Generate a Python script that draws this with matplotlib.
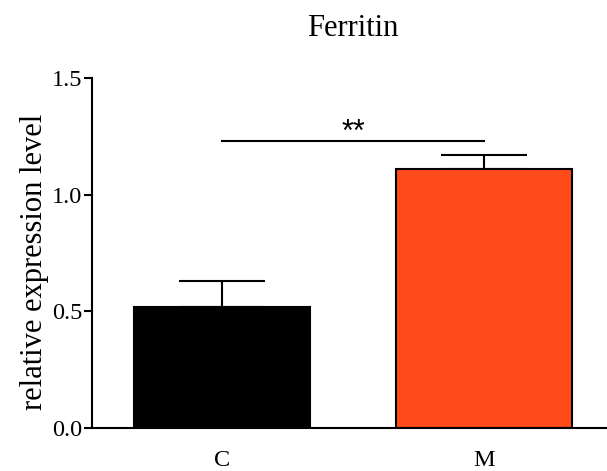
#!/usr/bin/env python3
"""Ferritin relative expression, C vs M bar chart with SEM and significance."""

import matplotlib
matplotlib.use("Agg")
import matplotlib.pyplot as plt
import numpy as np

groups = ["C", "M"]
means = [0.52, 1.11]
sems = [0.11, 0.06]
bar_colors = ["#000000", "#FF4A1A"]
sig_label = "**"
sig_height = 1.23
y_ticks = [0.0, 0.5, 1.0, 1.5]

plt.rcParams["font.family"] = ["Liberation Serif", "DejaVu Serif"]

fig = plt.figure(figsize=(6.07, 4.71), dpi=100)
ax = fig.add_axes([0.1516, 0.0913, 0.8468, 0.743])

x = np.arange(len(groups))
lower = np.zeros(len(sems))

# error bars behind the bars so the lower cap stays hidden
ax.errorbar(x, means, yerr=[lower, sems], fmt="none", ecolor="black",
            elinewidth=1.5, capsize=31, capthick=1.5, zorder=1)
ax.bar(x, means, width=0.67, color=bar_colors, edgecolor="black",
       linewidth=1.5, zorder=2)

# significance bracket between the two bar centres
ax.plot([x[0], x[1]], [sig_height, sig_height], color="black", lw=1.5)
ax.text(x.mean(), sig_height + 0.002, sig_label, ha="center", va="baseline",
        fontsize=22, family=["Liberation Sans", "DejaVu Sans"])

ax.set_xlim(-0.496, 1.466)
ax.set_ylim(0, 1.5)
ax.set_yticks(y_ticks)
ax.set_yticklabels([f"{t:.1f}" for t in y_ticks])
ax.set_xticks(x)
ax.set_xticklabels(groups)

for side in ("top", "right"):
    ax.spines[side].set_visible(False)
for side in ("left", "bottom"):
    ax.spines[side].set_linewidth(1.5)

ax.tick_params(axis="y", length=6, width=1.5, labelsize=17.5, pad=0.8)
ax.tick_params(axis="x", length=0, labelsize=17.5, pad=16)

ax.set_ylabel("relative expression level", fontsize=22)
ax.yaxis.set_label_coords(-0.084, 0.474)
ax.set_title("Ferritin", fontsize=22, pad=30, x=0.508)

fig.savefig("out.png", dpi=100)
